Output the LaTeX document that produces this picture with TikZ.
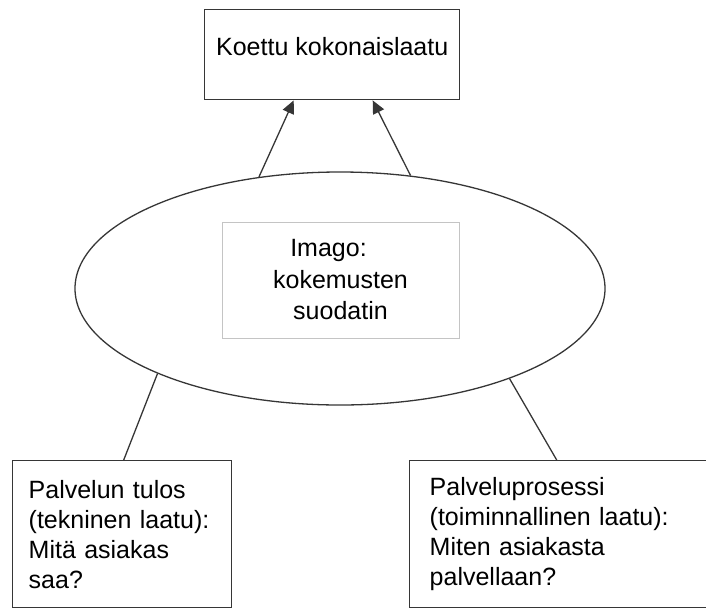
\documentclass[tikz,border=0pt]{standalone}
\usepackage{fontspec}
\setmainfont{Liberation Sans}
\usetikzlibrary{arrows.meta,shapes.geometric}
\definecolor{edge}{HTML}{363636}
\definecolor{lightedge}{HTML}{C4C4C4}
\tikzset{
  boxnode/.style={draw=edge, line width=1.4pt, rectangle, inner sep=0pt, anchor=north west},
  bigtext/.style={font=\fontsize{25}{30}\selectfont},
  conn/.style={draw=edge, line width=1.3pt},
  arr/.style={conn, -{Triangle[length=13pt,width=12pt]}}
}
\begin{document}
\begin{tikzpicture}[x=1pt,y=-1pt]
\useasboundingbox (0,0) rectangle (706,611);
\clip (0,0) rectangle (706,611);
% top box
\node[boxnode, bigtext, minimum width=255pt, minimum height=90pt, text height=18pt, text depth=16pt] (tb) at (204,9) {Koettu kokonaislaatu};
% ellipse
\node[ellipse, draw=edge, line width=1.3pt, minimum width=530pt, minimum height=233pt, inner sep=0pt] (ell) at (340,288.5) {};
% inner box
\node[rectangle, draw=lightedge, line width=1pt, minimum width=237pt, minimum height=116pt, inner sep=0pt, align=center, font=\fontsize{25}{31.5}\selectfont] (ib) at (340.5,280) {Imago:\kern24pt\\kokemusten\\suodatin};
% bottom boxes
\node[boxnode, bigtext, minimum width=219pt, minimum height=147pt, text width=187pt, inner xsep=16pt, align=left] (lb) at (12,460) {Palvelun tulos\\(tekninen laatu):\\Mitä asiakas\\saa?};
\node[boxnode, bigtext, minimum width=300pt, minimum height=147pt, text width=260pt, inner xsep=20pt, align=left] (rb) at (409,460) {Palveluprosessi\\(toiminnallinen laatu):\\Miten asiakasta\\palvellaan?};
% connectors
\draw[arr] (ell.126.7) -- ([xshift=-38.5pt]tb.south);
\draw[arr] (ell.58.9) -- ([xshift=40.5pt]tb.south);
\draw[conn] (ell.205.7) -- ([xshift=1.5pt]lb.north);
\draw[conn] (ell.332.9) -- ([xshift=-3pt]rb.north);
\end{tikzpicture}
\end{document}
